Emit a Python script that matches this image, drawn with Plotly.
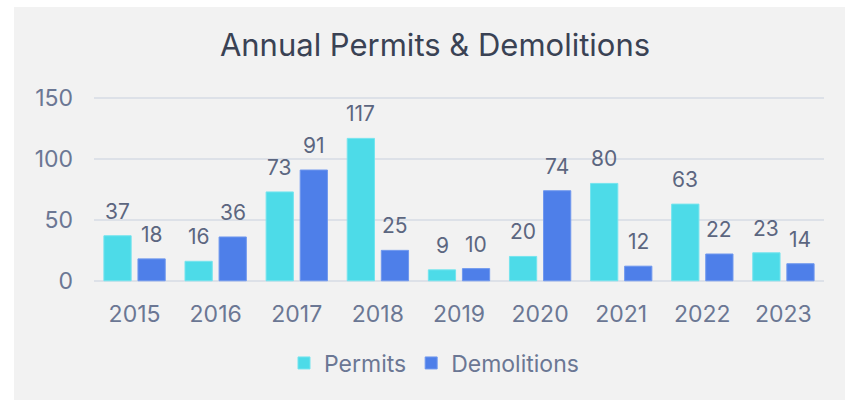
import plotly.graph_objects as go

years = ["2015", "2016", "2017", "2018", "2019", "2020", "2021", "2022", "2023"]
permits = [37, 16, 73, 117, 9, 20, 80, 63, 23]
demolitions = [18, 36, 91, 25, 10, 74, 12, 22, 14]
y_ticks = [0, 50, 100, 150]

C_PERMIT = "#4DDBE8"
C_DEMO = "#4E7FE9"
TEXT = "#6B7794"
LABEL = "#5C6680"
FONT = "Inter"

W, H = 845, 400
ML, MR, MT, MB = 94, 21, 97, 118

fig = go.Figure()
fig.add_trace(go.Bar(name="Permits", x=years, y=permits,
                     marker=dict(color=C_PERMIT, line=dict(color="#74E4EE", width=1))))
fig.add_trace(go.Bar(name="Demolitions", x=years, y=demolitions,
                     marker=dict(color=C_DEMO, line=dict(color="#7098EE", width=1))))

annotations = []
for i, yr in enumerate(years):
    # category axes place annotations by category index
    for val, shift in ((permits[i], -17), (demolitions[i], 17)):
        annotations.append(dict(x=i, y=val, xref="x", yref="y", text=str(val),
                                showarrow=False, xshift=shift, yshift=10,
                                yanchor="bottom", xanchor="center",
                                font=dict(family=FONT, size=21, color=LABEL)))

pw = W - ML - MR
ph = H - MT - MB
fig.update_layout(
    width=W, height=H,
    margin=dict(l=ML, r=MR, t=MT, b=MB, pad=0),
    paper_bgcolor="#F2F2F2", plot_bgcolor="#F2F2F2",
    barmode="group", bargap=0.16, bargroupgap=0.2,
    title=dict(text="Annual Permits & Demolitions", x=435 / W, xref="container", xanchor="center",
               y=1 - 45 / H, yref="container", yanchor="middle",
               font=dict(family=FONT, size=31, color="#3A4254")),
    font=dict(family=FONT, color=TEXT),
    legend=dict(orientation="h", xref="container", yref="container", x=434 / W, y=1 - 363 / H,
                xanchor="center", yanchor="middle", font=dict(family=FONT, size=23, color=TEXT),
                itemwidth=30, traceorder="normal"),
    annotations=annotations,
    shapes=[
        dict(type="rect", xref="paper", yref="paper",
             x0=-ML / pw, x1=(14 - ML) / pw, y0=-2, y1=3,
             fillcolor="white", line=dict(width=0), layer="above"),
        dict(type="rect", xref="paper", yref="paper",
             x0=-1, x1=2, y0=1 + (MT - 7) / ph, y1=1 + MT / ph + 1,
             fillcolor="white", line=dict(width=0), layer="above"),
    ],
    xaxis=dict(type="category", showgrid=False, showline=False, zeroline=False, ticks="",
               tickfont=dict(family=FONT, size=23, color=TEXT), ticklabelstandoff=16),
    yaxis=dict(range=[-1, 151], tickvals=y_ticks, showgrid=True, gridcolor="#DDE1E8", gridwidth=1.5,
               zeroline=False, showline=False, ticks="",
               tickfont=dict(family=FONT, size=23, color=TEXT), ticklabelstandoff=20),
)

fig.write_html("out.html", config={"displayModeBar": False},
               post_script="document.body.style.margin='0';document.body.style.overflow='hidden';")
